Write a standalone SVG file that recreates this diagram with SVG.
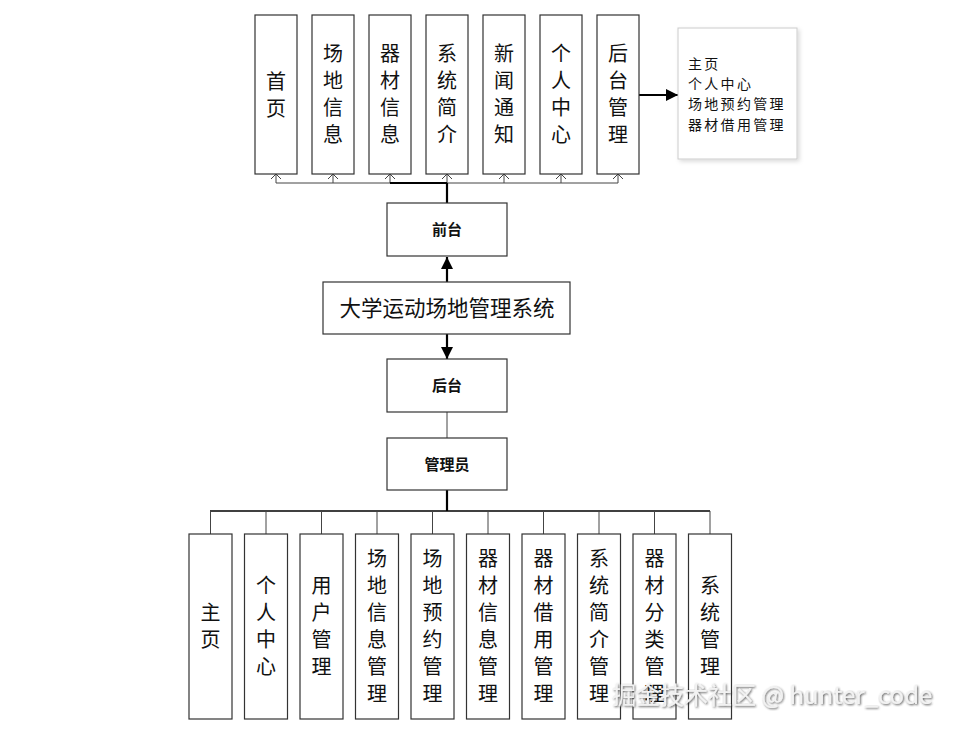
<svg xmlns="http://www.w3.org/2000/svg" width="971" height="731" viewBox="0 0 971 731">
<style>
.box{fill:#fff;stroke:#333;stroke-width:1.2}
.vt{font-family:"Noto Sans CJK SC","Noto Sans",sans-serif;font-size:20px;fill:#111;text-anchor:middle}
.lbl{font-family:"Noto Sans CJK SC","Noto Sans",sans-serif;font-size:15px;font-weight:bold;fill:#111;text-anchor:middle}
.thin{stroke:#444;stroke-width:1;fill:none}
.thick{stroke:#000;stroke-width:2.2;fill:none}
.note{font-family:"Noto Sans CJK SC","Noto Sans",sans-serif;font-size:14px;letter-spacing:2.3px;fill:#111}
</style>
<defs>
<marker id="ah" viewBox="0 0 10 10" refX="10" refY="5" markerWidth="5.5" markerHeight="5.5" orient="auto" markerUnits="strokeWidth">
<path d="M0,0 L10,5 L0,10 z" fill="#000"/>
</marker>
<filter id="sh" x="-10%" y="-10%" width="130%" height="130%">
<feDropShadow dx="2" dy="2" stdDeviation="2" flood-color="#000" flood-opacity="0.15"/>
</filter>
<filter id="wm" x="-5%" y="-20%" width="110%" height="150%">
<feDropShadow dx="1" dy="1" stdDeviation="0.8" flood-color="#333" flood-opacity="0.8"/>
</filter>
</defs>
<rect width="971" height="731" fill="#fff"/>

<g id="connectors">
<line class="thin" x1="276" y1="183" x2="618" y2="183"/>
<g class="thin">
<path d="M276,183V174 M333,183V174 M390,183V174 M504,183V174 M561,183V174 M618,183V174 M447,183V174"/>
<path d="M271,179L276,174L281,179 M328,179L333,174L338,179 M385,179L390,174L395,179 M442,179L447,174L452,179 M499,179L504,174L509,179 M556,179L561,174L566,179 M613,179L618,174L623,179"/>
</g>
<line class="thick" x1="390" y1="183" x2="447" y2="183" stroke-width="1.6"/>
<line class="thick" x1="447" y1="183" x2="447" y2="203"/>
<line class="thick" x1="639" y1="95" x2="678" y2="95" marker-end="url(#ah)"/>
<line class="thick" x1="447" y1="282" x2="447" y2="257" marker-end="url(#ah)"/>
<line class="thick" x1="447" y1="334" x2="447" y2="359" marker-end="url(#ah)"/>
<line class="thin" x1="447" y1="412" x2="447" y2="438"/>
<line class="thick" x1="447" y1="490" x2="447" y2="511"/>
<line x1="210" y1="511" x2="710" y2="511" stroke="#000" stroke-width="1.3"/>
<path class="thin" d="M210.5,511V534 M266,511V534 M321.5,511V534 M377,511V534 M432.5,511V534 M488,511V534 M543.5,511V534 M599,511V534 M654.5,511V534 M710,511V534"/>
</g>

<g id="t1"><rect class="box" x="255" y="15" width="42" height="159"/><text class="vt" x="276"><tspan x="276" y="89">首</tspan><tspan x="276" y="116">页</tspan></text></g>
<g id="t2"><rect class="box" x="312" y="15" width="42" height="159"/><text class="vt"><tspan x="333" y="61">场</tspan><tspan x="333" y="88">地</tspan><tspan x="333" y="115">信</tspan><tspan x="333" y="142">息</tspan></text></g>
<g id="t3"><rect class="box" x="369" y="15" width="42" height="159"/><text class="vt"><tspan x="390" y="61">器</tspan><tspan x="390" y="88">材</tspan><tspan x="390" y="115">信</tspan><tspan x="390" y="142">息</tspan></text></g>
<g id="t4"><rect class="box" x="426" y="15" width="42" height="159"/><text class="vt"><tspan x="447" y="61">系</tspan><tspan x="447" y="88">统</tspan><tspan x="447" y="115">简</tspan><tspan x="447" y="142">介</tspan></text></g>
<g id="t5"><rect class="box" x="483" y="15" width="42" height="159"/><text class="vt"><tspan x="504" y="61">新</tspan><tspan x="504" y="88">闻</tspan><tspan x="504" y="115">通</tspan><tspan x="504" y="142">知</tspan></text></g>
<g id="t6"><rect class="box" x="540" y="15" width="42" height="159"/><text class="vt"><tspan x="561" y="61">个</tspan><tspan x="561" y="88">人</tspan><tspan x="561" y="115">中</tspan><tspan x="561" y="142">心</tspan></text></g>
<g id="t7"><rect class="box" x="597" y="15" width="42" height="159"/><text class="vt"><tspan x="618" y="61">后</tspan><tspan x="618" y="88">台</tspan><tspan x="618" y="115">管</tspan><tspan x="618" y="142">理</tspan></text></g>

<g id="note"><rect x="678" y="28" width="119" height="131" fill="#fff" stroke="#ccc" stroke-width="1" filter="url(#sh)"/>
<text class="note"><tspan x="688" y="69">主页</tspan><tspan x="688" y="89">个人中心</tspan><tspan x="688" y="109">场地预约管理</tspan><tspan x="688" y="130">器材借用管理</tspan></text></g>

<g id="qiantai"><rect class="box" x="387" y="203" width="120" height="53"/><text class="lbl" x="447" y="235">前台</text></g>
<g id="main"><rect class="box" x="323" y="282" width="247" height="52"/><text x="447" y="316" text-anchor="middle" font-family="Noto Sans CJK SC, Noto Sans, sans-serif" font-size="21.5" fill="#111">大学运动场地管理系统</text></g>
<g id="houtai"><rect class="box" x="387" y="359" width="120" height="53"/><text class="lbl" x="447" y="391">后台</text></g>
<g id="admin"><rect class="box" x="387" y="438" width="120" height="52"/><text class="lbl" x="447" y="470">管理员</text></g>

<g id="b1"><rect class="box" x="189" y="534" width="43" height="185"/><text class="vt"><tspan x="210.5" y="620">主</tspan><tspan x="210.5" y="647">页</tspan></text></g>
<g id="b2"><rect class="box" x="244.5" y="534" width="43" height="185"/><text class="vt"><tspan x="266" y="593">个</tspan><tspan x="266" y="620">人</tspan><tspan x="266" y="647">中</tspan><tspan x="266" y="674">心</tspan></text></g>
<g id="b3"><rect class="box" x="300" y="534" width="43" height="185"/><text class="vt"><tspan x="321.5" y="593">用</tspan><tspan x="321.5" y="620">户</tspan><tspan x="321.5" y="647">管</tspan><tspan x="321.5" y="674">理</tspan></text></g>
<g id="b4"><rect class="box" x="355.5" y="534" width="43" height="185"/><text class="vt"><tspan x="377" y="566">场</tspan><tspan x="377" y="593">地</tspan><tspan x="377" y="620">信</tspan><tspan x="377" y="647">息</tspan><tspan x="377" y="674">管</tspan><tspan x="377" y="701">理</tspan></text></g>
<g id="b5"><rect class="box" x="411" y="534" width="43" height="185"/><text class="vt"><tspan x="432.5" y="566">场</tspan><tspan x="432.5" y="593">地</tspan><tspan x="432.5" y="620">预</tspan><tspan x="432.5" y="647">约</tspan><tspan x="432.5" y="674">管</tspan><tspan x="432.5" y="701">理</tspan></text></g>
<g id="b6"><rect class="box" x="466.5" y="534" width="43" height="185"/><text class="vt"><tspan x="488" y="566">器</tspan><tspan x="488" y="593">材</tspan><tspan x="488" y="620">信</tspan><tspan x="488" y="647">息</tspan><tspan x="488" y="674">管</tspan><tspan x="488" y="701">理</tspan></text></g>
<g id="b7"><rect class="box" x="522" y="534" width="43" height="185"/><text class="vt"><tspan x="543.5" y="566">器</tspan><tspan x="543.5" y="593">材</tspan><tspan x="543.5" y="620">借</tspan><tspan x="543.5" y="647">用</tspan><tspan x="543.5" y="674">管</tspan><tspan x="543.5" y="701">理</tspan></text></g>
<g id="b8"><rect class="box" x="577.5" y="534" width="43" height="185"/><text class="vt"><tspan x="599" y="566">系</tspan><tspan x="599" y="593">统</tspan><tspan x="599" y="620">简</tspan><tspan x="599" y="647">介</tspan><tspan x="599" y="674">管</tspan><tspan x="599" y="701">理</tspan></text></g>
<g id="b9"><rect class="box" x="633" y="534" width="43" height="185"/><text class="vt"><tspan x="654.5" y="566">器</tspan><tspan x="654.5" y="593">材</tspan><tspan x="654.5" y="620">分</tspan><tspan x="654.5" y="647">类</tspan><tspan x="654.5" y="674">管</tspan><tspan x="654.5" y="701">理</tspan></text></g>
<g id="b10"><rect class="box" x="688.5" y="534" width="43" height="185"/><text class="vt"><tspan x="710" y="593">系</tspan><tspan x="710" y="620">统</tspan><tspan x="710" y="647">管</tspan><tspan x="710" y="674">理</tspan></text></g>

<text id="watermark" x="612" y="704" font-family="Noto Sans CJK SC, Noto Sans, sans-serif" font-size="24" fill="#f2f2f2" filter="url(#wm)">掘金技术社区 @ hunter_code</text>
</svg>
